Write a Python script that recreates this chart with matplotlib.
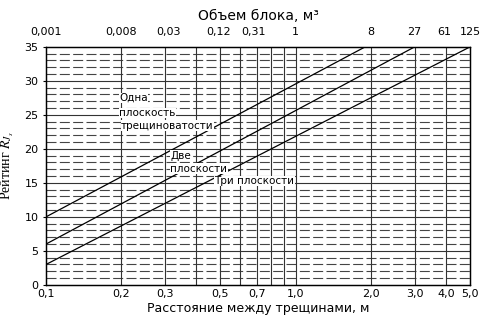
import numpy as np
import matplotlib
matplotlib.use("Agg")
import matplotlib.pyplot as plt

# spacing between joints (m) and rating
spacing_one = [0.1, 1.9]
rating_one = [10, 35]
spacing_two = [0.1, 3.0]
rating_two = [6, 35]
spacing_three = [0.1, 5.0]
rating_three = [3, 35]

bottom_ticks = [0.1, 0.2, 0.3, 0.5, 0.7, 1.0, 2.0, 3.0, 4.0, 5.0]
bottom_labels = ["0,1", "0,2", "0,3", "0,5", "0,7", "1,0", "2,0", "3,0", "4,0", "5,0"]
grid_x = [0.2, 0.3, 0.4, 0.5, 0.6, 0.7, 0.8, 0.9, 1.0, 2.0, 3.0, 4.0]
volumes = [0.001, 0.008, 0.03, 0.12, 0.31, 1, 8, 27, 61, 125]
volume_labels = ["0,001", "0,008", "0,03", "0,12", "0,31", "1", "8", "27", "61", "125"]

# line captions: (text, x, y)
captions = [
    ("Одна", 0.196, 27.5),
    ("плоскость", 0.196, 25.3),
    ("трещиноватости", 0.2, 23.4),
    ("Две", 0.315, 19.0),
    ("плоскости", 0.315, 17.1),
    ("Три плоскости", 0.473, 15.3),
]

plt.rcParams['font.family'] = ['DejaVu Sans']
plt.rcParams['mathtext.fontset'] = 'stix'

fig = plt.figure(figsize=(5, 3.19), dpi=100)
ax = fig.add_axes([0.092, 0.107, 0.848, 0.746])
ax.set_xscale("log")
ax.set_xlim(0.1, 5.0)
ax.set_ylim(0, 35)

# grid: dashed every 1, solid every 5, solid verticals
for r in range(1, 35):
    if r % 5 == 0:
        ax.axhline(r, color="#333333", lw=0.8)
    else:
        ax.axhline(r, color="#444444", lw=0.8, ls=(0, (9, 3)))
for g in grid_x:
    ax.axvline(g, color="#333333", lw=0.8)

ax.plot(spacing_one, rating_one, color="black", lw=0.9)
ax.plot(spacing_two, rating_two, color="black", lw=0.9)
ax.plot(spacing_three, rating_three, color="black", lw=0.9)

box = dict(facecolor="white", edgecolor="none", pad=0.2)
for txt, x, y in captions:
    ax.text(x, y, txt, fontsize=7.5, va="center", ha="left", bbox=box)

ax.set_xticks(bottom_ticks)
ax.set_xticklabels(bottom_labels, fontsize=8)
ax.minorticks_off()
ax.set_yticks(range(0, 36, 5))
ax.tick_params(axis="y", labelsize=8, length=2)
ax.tick_params(axis="x", length=0, pad=3)
ax.set_xlabel("Расстояние между трещинами, м", fontsize=9, labelpad=2)
ax.set_ylabel("Рейтинг $R_{J_s}$", fontsize=10, family="Liberation Serif", labelpad=6)

ax2 = ax.twiny()
ax2.set_xscale("log")
ax2.set_xlim(0.1, 5.0)
ax2.set_xticks(np.cbrt(volumes))
ax2.set_xticklabels(volume_labels, fontsize=8)
ax2.minorticks_off()
ax2.tick_params(axis="x", length=0, pad=7)
ax2.set_xlabel("Объем блока, м³", fontsize=10, labelpad=5)

for a in (ax, ax2):
    for s in a.spines.values():
        s.set_linewidth(0.9)

fig.savefig("out.png", dpi=100)
